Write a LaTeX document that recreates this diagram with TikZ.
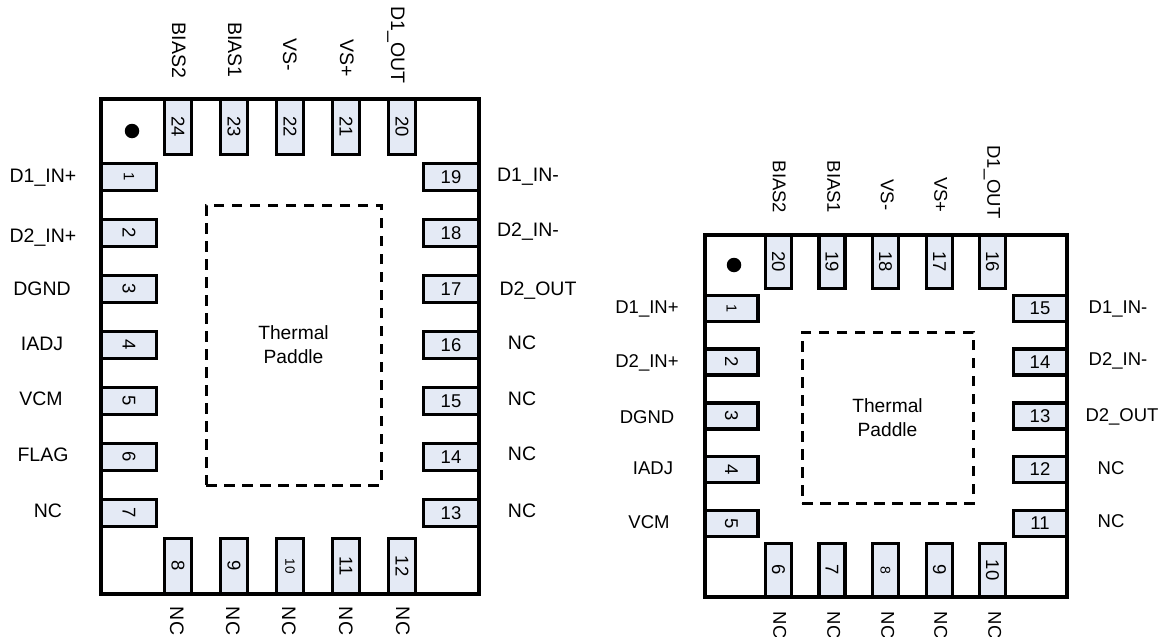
\documentclass[tikz,border=0pt]{standalone}
\usepackage{fontspec}
\setmainfont{Liberation Sans}
\definecolor{pinblue}{HTML}{E4EAF5}
\tikzset{
  chipbody/.style={draw, rectangle, line width=3.2pt, fill=white},
  paddle/.style={draw, rectangle, dashed, dash pattern=on 10.5pt off 7.5pt, line width=3pt, align=center, font=\fontsize{19.2}{24}\selectfont},
  pinbox/.style={draw, rectangle, fill=pinblue, line width=3.2pt, inner sep=0pt, font=\fontsize{18.5}{20}\selectfont},
  smallnum/.style={font=\fontsize{#1}{16}\selectfont},
  pinA/.style={pinbox, minimum width=55pt, minimum height=27pt},
  pinArot/.style={pinbox, rotate=-90, minimum width=27pt, minimum height=55pt},
  pinAvert/.style={pinbox, rotate=-90, minimum width=55pt, minimum height=27pt},
  pinB/.style={pinbox, minimum width=53pt, minimum height=26pt},
  pinBrot/.style={pinbox, rotate=-90, minimum width=26pt, minimum height=53pt},
  pinBvert/.style={pinbox, rotate=-90, minimum width=53pt, minimum height=26pt},
  pinname/.style={inner sep=0pt, text height=13.8pt, text depth=0pt, font=\fontsize{19.5}{22}\selectfont},
  pinnamev/.style={pinname, rotate=-90},
  nameB/.style={inner sep=0pt, text height=13.2pt, text depth=0pt, font=\fontsize{18.5}{22}\selectfont},
  nameBv/.style={nameB, rotate=-90},
  dot/.style={circle, fill=black, inner sep=0pt, minimum size=14.5pt}
}
\begin{document}
\begin{tikzpicture}[x=1pt, y=-1pt]
\useasboundingbox (0,0) rectangle (1165,637);
% 24 pin package
\node[chipbody, minimum width=378pt, minimum height=495pt] (chipA) at (290,346.5) {};
\node[paddle, minimum width=175pt, minimum height=280pt] (padA) at (293.5,345) {Thermal\\Paddle};
\node[dot] (dotA) at (132,131) {};
\node[pinArot, smallnum=15] (a1) at (129,177) {1};
\node[pinArot] (a2) at (129,233) {2};
\node[pinArot] (a3) at (129,289) {3};
\node[pinArot] (a4) at (129,345) {4};
\node[pinArot] (a5) at (129,401) {5};
\node[pinArot] (a6) at (129,457) {6};
\node[pinArot] (a7) at (129,513) {7};
\node[pinAvert] (a8) at (178,566) {8};
\node[pinAvert] (a9) at (234,566) {9};
\node[pinAvert, smallnum=13.5] (a10) at (290,566) {10};
\node[pinAvert] (a11) at (346,566) {11};
\node[pinAvert] (a12) at (402,566) {12};
\node[pinA] (a13) at (451,513) {13};
\node[pinA] (a14) at (451,457) {14};
\node[pinA] (a15) at (451,401) {15};
\node[pinA] (a16) at (451,345) {16};
\node[pinA] (a17) at (451,289) {17};
\node[pinA] (a18) at (451,233) {18};
\node[pinA] (a19) at (451,177) {19};
\node[pinAvert] (a20) at (402,127) {20};
\node[pinAvert] (a21) at (346,127) {21};
\node[pinAvert] (a22) at (290,127) {22};
\node[pinAvert] (a23) at (234,127) {23};
\node[pinAvert] (a24) at (178,127) {24};
\node[pinname] (nameA1) at (43,176) {D1\_IN+};
\node[pinname] (nameA2) at (43,235.5) {D2\_IN+};
\node[pinname] (nameA3) at (42,289) {DGND};
\node[pinname] (nameA4) at (42,344) {IADJ};
\node[pinname] (nameA5) at (41,399) {VCM};
\node[pinname] (nameA6) at (43,455) {FLAG};
\node[pinname] (nameA7) at (48,511) {NC};
\node[pinnamev] (nameA8) at (177,621) {NC};
\node[pinnamev] (nameA9) at (233,621) {NC};
\node[pinnamev] (nameA10) at (289,621) {NC};
\node[pinnamev] (nameA11) at (346,621) {NC};
\node[pinnamev] (nameA12) at (403,621) {NC};
\node[pinname] (nameA13) at (522,511) {NC};
\node[pinname] (nameA14) at (522,454) {NC};
\node[pinname] (nameA15) at (522,399) {NC};
\node[pinname] (nameA16) at (522,343) {NC};
\node[pinname] (nameA17) at (538,288.5) {D2\_OUT};
\node[pinname] (nameA18) at (528,230) {D2\_IN-};
\node[pinname] (nameA19) at (528,175) {D1\_IN-};
\node[pinnamev] (nameA20) at (398,45) {D1\_OUT};
\node[pinnamev] (nameA21) at (347,58) {VS+};
\node[pinnamev] (nameA22) at (290,55) {VS-};
\node[pinnamev] (nameA23) at (235,50) {BIAS1};
\node[pinnamev] (nameA24) at (179,50.5) {BIAS2};
% 20 pin package
\node[chipbody, minimum width=362pt, minimum height=362pt] (chipB) at (886,416) {};
\node[paddle, minimum width=171pt, minimum height=171pt] (padB) at (887.5,417.5) {Thermal\\Paddle};
\node[dot] (dotB) at (734,265) {};
\node[pinBrot, smallnum=14.5] (b1) at (731.5,308.5) {1};
\node[pinBrot] (b2) at (731.5,362) {2};
\node[pinBrot] (b3) at (731.5,416) {3};
\node[pinBrot] (b4) at (731.5,469.5) {4};
\node[pinBrot] (b5) at (731.5,523.5) {5};
\node[pinBvert] (b6) at (778.5,570) {6};
\node[pinBvert] (b7) at (832,570) {7};
\node[pinBvert, smallnum=14] (b8) at (885.5,570) {8};
\node[pinBvert] (b9) at (939.5,570) {9};
\node[pinBvert] (b10) at (992.5,570) {10};
\node[pinB] (b11) at (1040,523.5) {11};
\node[pinB] (b12) at (1040,469.5) {12};
\node[pinB] (b13) at (1040,416) {13};
\node[pinB] (b14) at (1040,362) {14};
\node[pinB] (b15) at (1040,308.5) {15};
\node[pinBvert] (b16) at (992.5,262) {16};
\node[pinBvert] (b17) at (939.5,262) {17};
\node[pinBvert] (b18) at (885.5,262) {18};
\node[pinBvert] (b19) at (832,262) {19};
\node[pinBvert] (b20) at (778.5,262) {20};
\node[nameB] (nameB1) at (647,306.5) {D1\_IN+};
\node[nameB] (nameB2) at (647,361) {D2\_IN+};
\node[nameB] (nameB3) at (647,417) {DGND};
\node[nameB] (nameB4) at (653,467.5) {IADJ};
\node[nameB] (nameB5) at (649,521.5) {VCM};
\node[nameBv] (nameB6) at (780,625) {NC};
\node[nameBv] (nameB7) at (834,625) {NC};
\node[nameBv] (nameB8) at (888,625) {NC};
\node[nameBv] (nameB9) at (941,625) {NC};
\node[nameBv] (nameB10) at (995,625) {NC};
\node[nameB] (nameB11) at (1111,521) {NC};
\node[nameB] (nameB12) at (1111,468) {NC};
\node[nameB] (nameB13) at (1122,415) {D2\_OUT};
\node[nameB] (nameB14) at (1118,359) {D2\_IN-};
\node[nameB] (nameB15) at (1118,307) {D1\_IN-};
\node[nameBv] (nameB16) at (994,182) {D1\_OUT};
\node[nameBv] (nameB17) at (941,195) {VS+};
\node[nameBv] (nameB18) at (887.5,195) {VS-};
\node[nameBv] (nameB19) at (834,187) {BIAS1};
\node[nameBv] (nameB20) at (779.5,187) {BIAS2};
\end{tikzpicture}
\end{document}
